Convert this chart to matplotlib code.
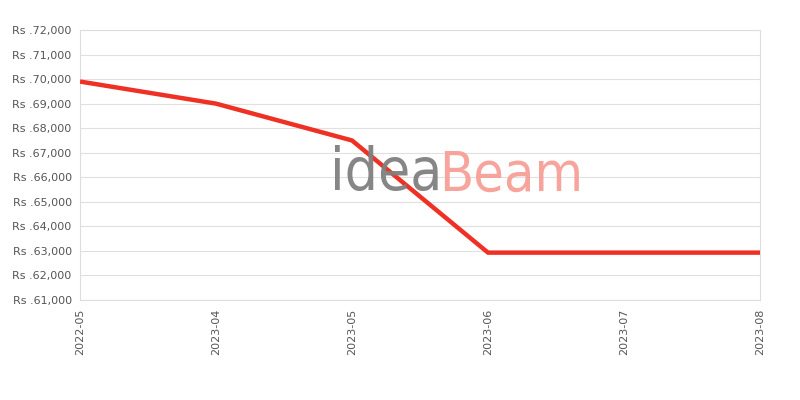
import matplotlib
matplotlib.use("Agg")
import matplotlib.pyplot as plt
from matplotlib.ticker import FuncFormatter

categories = ["2022-05", "2023-04", "2023-05", "2023-06", "2023-07", "2023-08"]
prices = [69900, 69000, 67500, 62930, 62930, 62930]
y_ticks = list(range(61000, 72001, 1000))

fig = plt.figure(figsize=(8, 4), dpi=100)
ax = fig.add_axes([0.1, 0.25, 0.85, 0.675])

x = list(range(len(categories)))
ax.plot(x, prices, color="#ee3124", linewidth=3.2, solid_capstyle="butt", zorder=3)

ax.set_xlim(0, len(categories) - 1)
ax.set_ylim(61000, 72000)
ax.set_yticks(y_ticks)
ax.yaxis.set_major_formatter(FuncFormatter(lambda v, p: "Rs .{:,}".format(int(v))))
ax.set_xticks(x)
ax.set_xticklabels(categories, rotation=90)
ax.grid(axis="y", color="#e0e0e0", linewidth=0.8, zorder=0)
for s in ax.spines.values():
    s.set_color("#dddddd")
    s.set_linewidth(0.8)
ax.tick_params(axis="both", length=0, labelsize=8, labelcolor="#555555", pad=6)

# watermark
fig.text(0.413, 0.524, "idea", fontsize=42, color="#808080", alpha=0.95,
         family="DejaVu Sans", fontstretch="condensed", ha="left", va="baseline", zorder=1)
fig.text(0.549, 0.524, "Beam", fontsize=40, color="#f7a097", alpha=0.95,
         family="DejaVu Sans", fontstretch="condensed", ha="left", va="baseline", zorder=1)

fig.savefig("out.png", dpi=100)
